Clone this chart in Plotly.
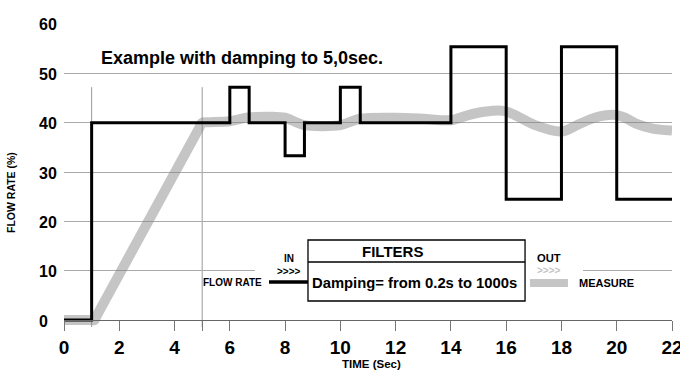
import plotly.graph_objects as go

# Input flow rate (step signal) and the damped measurement
flow_x = [0, 1, 6, 6.7, 8, 8.7, 10, 10.72, 14, 16, 18, 20, 22]
flow_y = [0, 40, 47.2, 40, 33.3, 40, 47.2, 40, 55.4, 24.5, 55.4, 24.5, 24.5]

measure_x = [0, 1.0, 1.1, 1.2, 4.9, 5.0, 5.2, 6.0, 6.6, 7.5, 8.0, 8.7, 10.0, 10.7,
             12.0, 13.0, 14.0, 14.6, 15.2, 15.9, 16.3, 17.0, 18.0, 18.6, 19.2,
             19.9, 20.3, 20.7, 21.3, 22.0]
measure_y = [0, 0, 0, 1.04, 39.0, 40.0, 40.1, 40.3, 41.0, 41.2, 41.0, 39.5, 39.5, 40.8,
             41.0, 40.8, 40.5, 41.5, 42.2, 42.4, 41.6, 39.6, 38.2, 39.6, 41.0,
             41.6, 41.0, 39.8, 38.8, 38.4]

x_ticks = [0, 2, 4, 5, 6, 8, 10, 12, 14, 16, 18, 20, 22]
x_tick_text = ["0", "2", "4", "", "6", "8", "10", "12", "14", "16", "18", "20", "22"]
y_ticks = [0, 10, 20, 30, 40, 50, 60]
marker_lines_x = [1, 5]
marker_line_top = 47.2

Y_MIN, Y_MAX = -1.4, 60.2
FONT = "Liberation Sans, Arial, sans-serif"
GRAY_BAND = "rgba(128,128,128,0.46)"
GRID = "#aaaaaa"

fig = go.Figure()

fig.add_trace(go.Scatter(
    x=measure_x, y=measure_y, mode="lines",
    line=dict(color=GRAY_BAND, width=10, shape="spline", smoothing=0.8),
    hoverinfo="skip",
))
fig.add_trace(go.Scatter(
    x=flow_x, y=flow_y, mode="lines",
    line=dict(color="black", width=3, shape="hv"),
    hoverinfo="skip",
))

shapes = []
# thin vertical markers at the start of the step and the end of the ramp
for mx in marker_lines_x:
    shapes.append(dict(type="line", xref="x", yref="y", x0=mx, x1=mx,
                       y0=Y_MIN, y1=marker_line_top,
                       line=dict(color="#999999", width=1), layer="below"))

# filter diagram
shapes += [
    dict(type="rect", xref="paper", yref="paper", x0=0.314, x1=0.8536,
         y0=0.0559, y1=0.3125, fillcolor="white", line=dict(width=0), layer="above"),
    dict(type="rect", xref="paper", yref="paper", x0=0.4013, x1=0.7583,
         y0=0.0855, y1=0.2862, line=dict(color="black", width=1.3), layer="above"),
    dict(type="line", xref="paper", yref="paper", x0=0.4013, x1=0.7583,
         y0=0.2138, y1=0.2138, line=dict(color="black", width=1.3), layer="above"),
    dict(type="line", xref="paper", yref="paper", x0=0.3372, x1=0.4013,
         y0=0.148, y1=0.148, line=dict(color="black", width=3.5), layer="above"),
    dict(type="line", xref="paper", yref="paper", x0=0.7664, x1=0.8289,
         y0=0.1447, y1=0.1447, line=dict(color=GRAY_BAND, width=8), layer="above"),
]

bold = lambda s: f"<b>{s}</b>"
annotations = [
    dict(text=bold("Example with damping to 5,0sec."), x=0.0576, y=0.8865,
         xanchor="left", yanchor="middle", font=dict(size=18)),
    dict(text=bold("FILTERS"), x=0.5395, y=0.25, xanchor="center",
         yanchor="middle", font=dict(size=15)),
    dict(text=bold("Damping= from 0.2s to 1000s"), x=0.5773, y=0.1447,
         xanchor="center", yanchor="middle", font=dict(size=14.8)),
    dict(text=bold("FLOW RATE"), x=0.329, y=0.148, xanchor="right",
         yanchor="middle", font=dict(size=10)),
    dict(text=bold("IN"), x=0.370, y=0.2237, xanchor="center",
         yanchor="middle", font=dict(size=10)),
    dict(text=bold("&gt;&gt;&gt;&gt;"), x=0.370, y=0.184, xanchor="center",
         yanchor="middle", font=dict(size=10)),
    dict(text=bold("OUT"), x=0.7977, y=0.227, xanchor="center",
         yanchor="middle", font=dict(size=11.2)),
    dict(text=bold("&gt;&gt;&gt;&gt;"), x=0.7977, y=0.185, xanchor="center",
         yanchor="middle", font=dict(size=10, color="#c4c4c4")),
    dict(text=bold("MEASURE"), x=0.8438, y=0.1447, xanchor="left",
         yanchor="middle", font=dict(size=11)),
    dict(text=bold("FLOW RATE (%)"), x=-0.0872, y=0.444, xanchor="center",
         yanchor="middle", textangle=-90, font=dict(size=10.5)),
    dict(text=bold("TIME (Sec)"), x=0.505, y=-0.122, xanchor="center",
         yanchor="middle", font=dict(size=11.5)),
]
for a in annotations:
    a.update(xref="paper", yref="paper", showarrow=False)

# y tick labels, left-aligned in the margin
for v in y_ticks:
    annotations.append(dict(text=bold(str(v)), xref="paper", yref="y",
                            x=-0.0444, y=v, yshift=-1, xanchor="left",
                            yanchor="middle", showarrow=False,
                            font=dict(size=16)))

fig.update_layout(
    width=680, height=374,
    margin=dict(l=64, r=8, t=23, b=47, autoexpand=False),
    paper_bgcolor="white", plot_bgcolor="white",
    font=dict(family=FONT, color="black"),
    showlegend=False,
    shapes=shapes,
    annotations=annotations,
    xaxis=dict(
        range=[0, 22], tickmode="array", tickvals=x_ticks, ticktext=x_tick_text,
        ticks="outside", ticklen=10, tickcolor="#777777", tickwidth=1,
        showline=True, linecolor="#666666", linewidth=1.2,
        showgrid=False, zeroline=False, ticklabeloverflow="allow",
        automargin=False,
        anchor="free", position=(0 - Y_MIN) / (Y_MAX - Y_MIN),
        tickfont=dict(size=19, family=FONT, color="black", weight="bold"),
    ),
    yaxis=dict(
        range=[Y_MIN, Y_MAX], tickmode="array", tickvals=y_ticks[1:],
        showticklabels=False, showgrid=True, gridcolor=GRID, gridwidth=1,
        zeroline=False, showline=False, automargin=False,
    ),
)

fig.write_html("out.html")
